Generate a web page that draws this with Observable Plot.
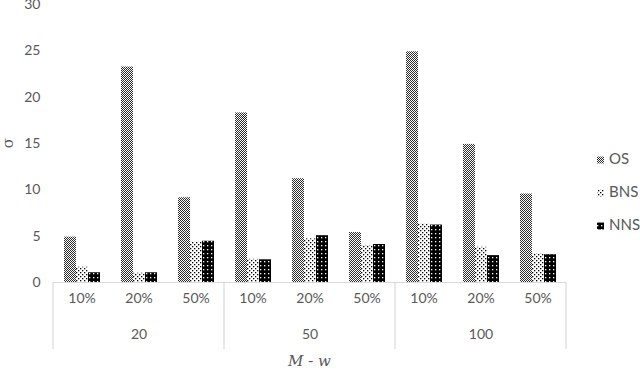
<!DOCTYPE html>
<html>
<head>
<meta charset="utf-8">
<script src="https://cdn.jsdelivr.net/npm/d3@7"></script>
<script src="https://cdn.jsdelivr.net/npm/@observablehq/plot@0.6"></script>
<style>
  html, body { margin: 0; padding: 0; background: #fff; }
  #chart { position: relative; width: 640px; height: 370px; }
</style>
</head>
<body>
<div id="chart"></div>
<script>
// ---- data ----
const groups = ["20", "50", "100"];
const subs = ["10%", "20%", "50%"];
const series = ["OS", "BNS", "NNS"];
const yTicks = [0, 5, 10, 15, 20, 25, 30];
// values in order: 20/10%, 20/20%, 20/50%, 50/10%, 50/20%, 50/50%, 100/10%, 100/20%, 100/50%
const OS  = [4.9, 23.25, 9.15, 18.3, 11.2, 5.4, 24.9, 14.9, 9.55];
const BNS = [1.65, 1.0, 4.35, 2.5, 4.7, 4.0, 6.3, 3.8, 3.1];
const NNS = [1.05, 1.05, 4.45, 2.45, 5.05, 4.1, 6.2, 2.9, 3.0];
const xTitle = ["M", " - ", "w"];
const yTitle = "σ";

// ---- build table ----
const keys = [];
groups.forEach(g => subs.forEach(s => keys.push(g + "|" + s)));
const valuesBySeries = {OS, BNS, NNS};
const rows = [];
keys.forEach((k, i) => series.forEach(s => rows.push({key: k, series: s, value: valuesBySeries[s][i]})));
const groupRows = groups.map(g => ({name: g, mid: g + "|" + subs[1], first: g + "|" + subs[0], last: g + "|" + subs[subs.length - 1]}));

const grey = "#595959";
const lineGrey = "#d9d9d9";
const font = "Lato, 'Open Sans', sans-serif";

const plot = Plot.plot({
  width: 640,
  height: 370,
  marginLeft: 53,
  marginRight: 74,
  marginTop: 4,
  marginBottom: 88,
  style: {fontFamily: font, fontSize: "14px", color: grey, background: "#fff"},
  fx: {domain: keys, padding: 0, axis: "bottom", label: null, tickFormat: k => k.split("|")[1], tickSize: 0, tickPadding: 11},
  x: {domain: series, paddingInner: 0, paddingOuter: 0.8, axis: null},
  y: {domain: [0, 30], ticks: yTicks, tickSize: 0, tickPadding: 13, label: null},
  color: {domain: series, range: ["url(#pOS)", "url(#pBNS)", "url(#pNNS)"]},
  marks: [
    Plot.barY(rows, {fx: "key", x: "series", y: "value", fill: "series"}),
    Plot.ruleY([0], {stroke: lineGrey, strokeWidth: 1.2}),
    Plot.text(groupRows, {fx: "mid", text: "name", frameAnchor: "bottom", dy: 56, fill: grey, fontSize: 14})
  ]
});

document.getElementById("chart").appendChild(plot);

// ---- patterns, group separators, titles, legend ----
const svg = d3.select(plot);
const defs = svg.insert("defs", ":first-child");
function pat(id, size, bg, fg, dots) {
  const p = defs.append("pattern").attr("id", id).attr("patternUnits", "userSpaceOnUse")
    .attr("width", size).attr("height", size);
  p.append("rect").attr("width", size).attr("height", size).attr("fill", bg);
  dots.forEach(([x, y, s]) => p.append("rect").attr("x", x).attr("y", y).attr("width", s).attr("height", s).attr("fill", fg));
}
pat("pOS", 2, "#ffffff", "#2a2a2a", [[0, 0, 1], [1, 1, 1]]);
pat("pBNS", 4, "#ffffff", "#000000", [[0, 0, 1.3], [2, 2, 1.3]]);
pat("pNNS", 4, "#000000", "#ffffff", [[1, 1, 1.3]]);

const fxS = plot.scale("fx");
const yS = plot.scale("y");
const y0 = yS.apply(0);
const bw = fxS.bandwidth;
const edges = groupRows.map(g => fxS.apply(g.first)).concat([fxS.apply(groupRows[groupRows.length - 1].last) + bw]);
svg.append("g").selectAll("line").data(edges).join("line")
  .attr("x1", d => d).attr("x2", d => d)
  .attr("y1", y0).attr("y2", y0 + 67)
  .attr("stroke", lineGrey).attr("stroke-width", 1.2);

const xMid = (fxS.range[0] + fxS.range[1]) / 2;
const t = svg.append("text").attr("x", xMid).attr("y", y0 + 80)
  .attr("text-anchor", "middle").attr("dominant-baseline", "middle")
  .attr("fill", grey).attr("font-family", "'DejaVu Serif', 'Liberation Serif', serif").attr("font-size", 15);
xTitle.forEach((s, i) => t.append("tspan").attr("font-style", i === 1 ? "normal" : "italic").text(s));

const yMid = (yS.range[0] + yS.range[1]) / 2;
svg.append("text").attr("transform", `translate(${fxS.range[0] - 44},${yMid}) rotate(-90)`)
  .attr("text-anchor", "middle").attr("dominant-baseline", "middle")
  .attr("fill", grey).attr("font-family", "'DejaVu Serif', 'Liberation Serif', serif").attr("font-size", 15)
  .text(yTitle);

const leg = svg.append("g").attr("font-family", font).attr("font-size", 15).attr("fill", grey).attr("text-anchor", "start");
series.forEach((s, i) => {
  const gy = 160 + i * 33;
  leg.append("rect").attr("x", 597).attr("y", gy - 3.5).attr("width", 7).attr("height", 7).attr("fill", `url(#p${s})`);
  leg.append("text").attr("x", 609).attr("y", gy).attr("dominant-baseline", "middle").text(s);
});
</script>
</body>
</html>
